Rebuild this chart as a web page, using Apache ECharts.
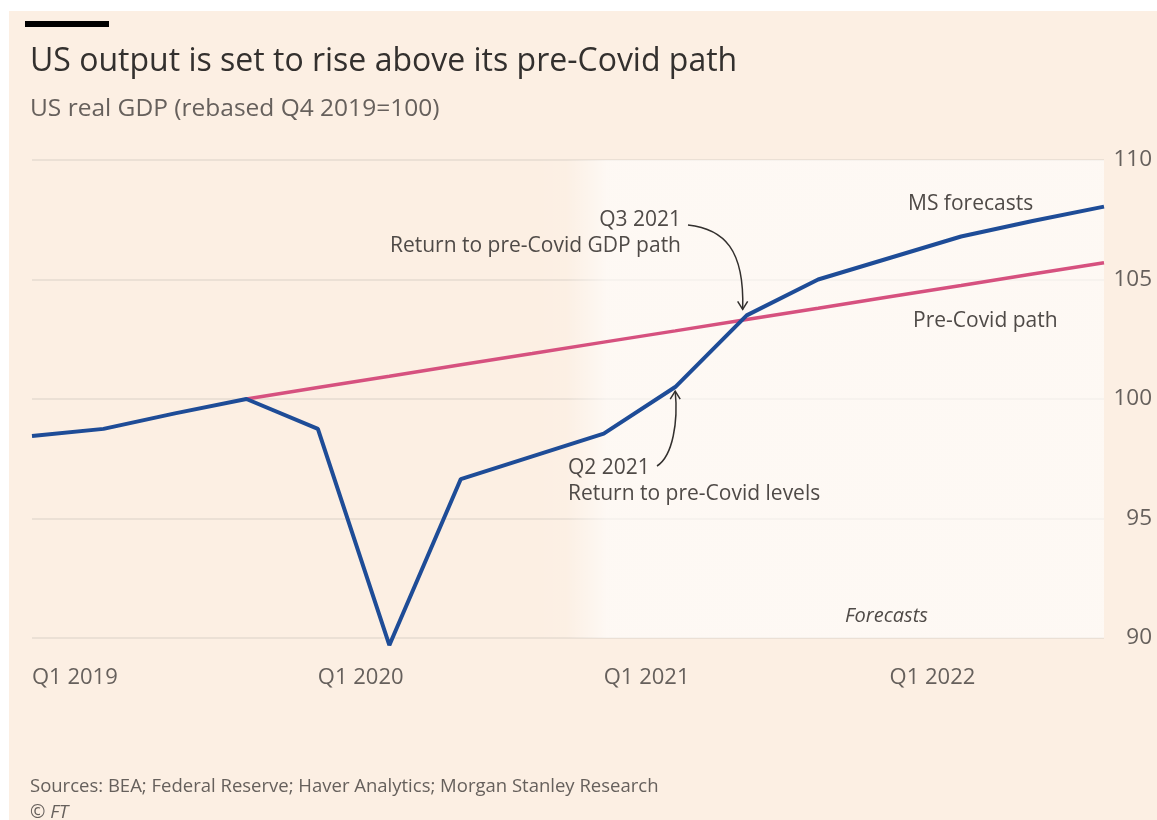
<!DOCTYPE html>
<html>
<head>
<meta charset="utf-8">
<script src="https://cdn.jsdelivr.net/npm/echarts@6.0.0/dist/echarts.min.js"></script>
<style>
html,body{margin:0;padding:0;background:#fff;}
#main{position:absolute;left:9px;top:11px;width:1148px;height:809px;background:#fcefe3;}
</style>
</head>
<body>
<div id="main"></div>
<script>
// quarters Q1 2019 .. Q4 2022
var quarters = ['Q1 2019','Q2 2019','Q3 2019','Q4 2019',
                'Q1 2020','Q2 2020','Q3 2020','Q4 2020',
                'Q1 2021','Q2 2021','Q3 2021','Q4 2021',
                'Q1 2022','Q2 2022','Q3 2022','Q4 2022'];

// actual GDP then MS forecasts (rebased Q4 2019 = 100)
var gdpActual = [98.45, 98.75, 99.4, 100.0,
                 98.75, 89.7, 96.65, 97.6,
                 98.55, 100.5, 103.5, 105.0,
                 105.9, 106.8, 107.45, 108.05];

// pre-Covid trend path, starts at Q4 2019
var preCovidPath = ['-', '-', '-', 100.0,
                    100.48, 100.95, 101.43, 101.9,
                    102.38, 102.85, 103.33, 103.8,
                    104.28, 104.75, 105.23, 105.7];

var yMin = 90, yMax = 110, yStep = 5;

var font = 'Open Sans';
var grey = '#66605c';
var ink = '#33302e';

var chart = echarts.init(document.getElementById('main'));

var option = {
    animation: false,
    backgroundColor: '#fcefe3',
    title: [
        {text: 'US output is set to rise above its pre-Covid path', left: 16, top: 30,
         textStyle: {fontFamily: font, fontSize: 32, fontWeight: 'normal', color: ink}},
        {text: 'US real GDP (rebased Q4 2019=100)', left: 16, top: 81,
         textStyle: {fontFamily: font, fontSize: 24.5, fontWeight: 'normal', color: grey}},
        {text: 'Sources: BEA; Federal Reserve; Haver Analytics; Morgan Stanley Research', left: 16, top: 761,
         textStyle: {fontFamily: font, fontSize: 18.5, fontWeight: 'normal', color: grey}},
        {text: '© FT', left: 16, top: 787,
         textStyle: {fontFamily: font, fontSize: 18.5, fontWeight: 'normal', fontStyle: 'italic', color: grey}}
    ],
    grid: {left: 23, right: 53, top: 149, bottom: 182},
    xAxis: {
        type: 'category',
        boundaryGap: false,
        data: quarters,
        axisLine: {show: false},
        axisTick: {show: false},
        axisLabel: {
            interval: function (i) { return i % 4 === 0; },
            align: 'left', margin: 29,
            fontFamily: font, fontSize: 22, color: grey
        }
    },
    yAxis: {
        type: 'value',
        position: 'right',
        min: yMin, max: yMax, interval: yStep,
        axisLine: {show: false},
        axisTick: {show: false},
        splitLine: {lineStyle: {color: '#e6dbd0', width: 1.5}},
        axisLabel: {align: 'right', margin: 48, fontFamily: font, fontSize: 22.5, color: grey}
    },
    series: [
        {
            name: 'Pre-Covid path',
            type: 'line',
            data: preCovidPath,
            symbol: 'none',
            clip: false,
            z: 3,
            lineStyle: {color: '#d6517f', width: 3.5},
            markArea: {
                silent: true,
                itemStyle: {
                    color: new echarts.graphic.LinearGradient(0, 0, 1, 0, [
                        {offset: 0, color: 'rgba(255,255,255,0)'},
                        {offset: 0.06, color: 'rgba(255,255,255,0.05)'},
                        {offset: 0.13, color: 'rgba(255,255,255,0.6)'},
                        {offset: 1, color: 'rgba(255,255,255,0.6)'}
                    ])
                },
                data: [[{xAxis: 'Q4 2020'}, {xAxis: 'Q4 2022'}]]
            }
        },
        {
            name: 'MS forecasts',
            type: 'line',
            data: gdpActual,
            symbol: 'none',
            clip: false,
            z: 4,
            lineStyle: {color: '#1e4c97', width: 4}
        }
    ]
};
chart.setOption(option);

// annotations, arrows hooked onto the data points
var p3 = chart.convertToPixel({gridIndex: 0}, ['Q3 2021', gdpActual[10]]);
var p2 = chart.convertToPixel({gridIndex: 0}, ['Q2 2021', gdpActual[9]]);

function txt(s, x, y, align, size, style) {
    return {type: 'text', x: x, y: y, z: 10,
            style: {text: s, fill: '#4f4a47', font: (style || 'normal') + ' ' + (size || 21) + 'px "' + font + '"',
                    textAlign: align || 'left', textVerticalAlign: 'middle'}};
}

var e3 = [p3[0] - 4, p3[1] - 6];
var e2 = [p2[0], p2[1] + 4];

chart.setOption({
    graphic: [
        {type: 'rect', shape: {x: 16, y: 10, width: 84, height: 6}, style: {fill: '#000'}},
        txt('Q3 2021', 672, 209, 'right'),
        txt('Return to pre-Covid GDP path', 672, 235, 'right'),
        txt('Q2 2021', 559, 457, 'left'),
        txt('Return to pre-Covid levels', 559, 483, 'left'),
        txt('MS forecasts', 899, 193, 'left'),
        txt('Pre-Covid path', 904, 310, 'left'),
        txt('Forecasts', 836, 605, 'left', 20, 'italic'),
        {type: 'bezierCurve', z: 10,
         shape: {x1: 679, y1: 214, cpx1: 715, cpy1: 218, cpx2: e3[0] + 2, cpy2: e3[1] - 60, x2: e3[0], y2: e3[1]},
         style: {stroke: ink, lineWidth: 1.5, fill: null}},
        {type: 'polyline', z: 10,
         shape: {points: [[e3[0] - 5, e3[1] - 8], e3, [e3[0] + 5, e3[1] - 8]]},
         style: {stroke: ink, lineWidth: 1.5, fill: null}},
        {type: 'bezierCurve', z: 10,
         shape: {x1: 648, y1: 455, cpx1: 664, cpy1: 445, cpx2: e2[0] + 3, cpy2: e2[1] + 30, x2: e2[0], y2: e2[1]},
         style: {stroke: ink, lineWidth: 1.5, fill: null}},
        {type: 'polyline', z: 10,
         shape: {points: [[e2[0] - 5, e2[1] + 8], e2, [e2[0] + 5, e2[1] + 8]]},
         style: {stroke: ink, lineWidth: 1.5, fill: null}}
    ]
});
</script>
</body>
</html>
